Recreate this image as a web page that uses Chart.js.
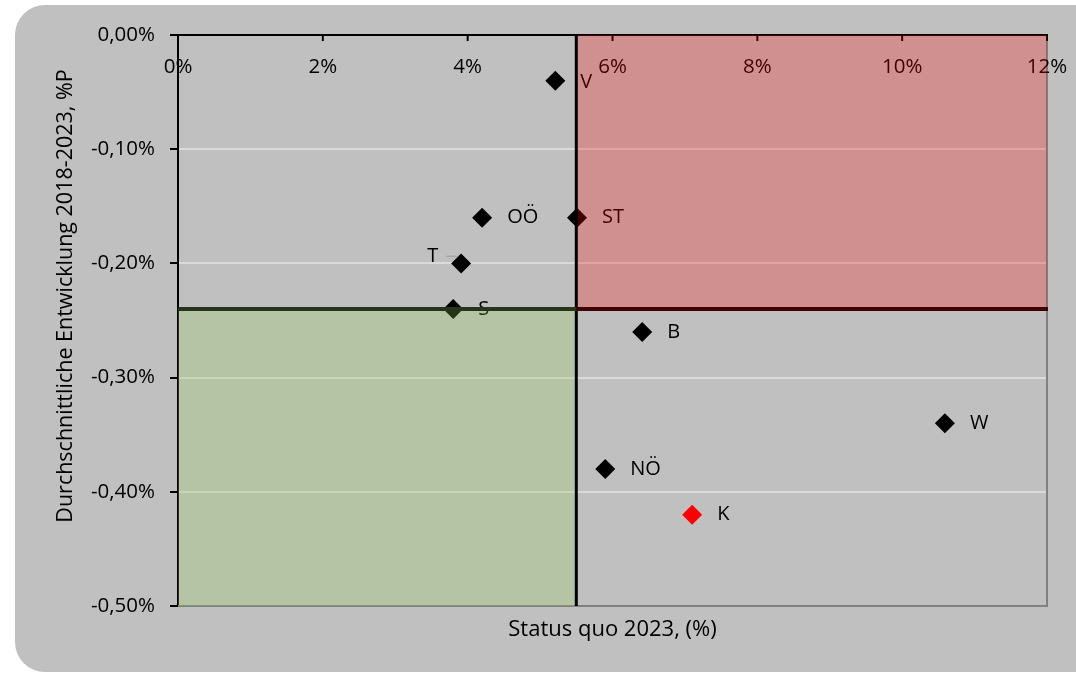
<!DOCTYPE html>
<html>
<head>
<meta charset="utf-8">
<script src="https://cdn.jsdelivr.net/npm/chart.js@4/dist/chart.umd.min.js"></script>
<style>
	html, body { margin: 0; padding: 0; background: #fff; }
</style>
</head>
<body>
<canvas id="myChart" width="1076" height="673"></canvas>
<script>
// Bundesländer
var regions = ["V", "OÖ", "ST", "T", "S", "B", "W", "NÖ", "K"];
// Status quo 2023 in %
var statusQuo = [5.21, 4.20, 5.51, 3.91, 3.80, 6.41, 10.59, 5.90, 7.10];
// durchschnittliche Entwicklung 2018-2023 in %P
var entwicklung = [-0.04, -0.16, -0.16, -0.20, -0.24, -0.26, -0.34, -0.38, -0.42];
var pointColors = ["#000", "#000", "#000", "#000", "#000", "#000", "#000", "#000", "#ff0000"];
var labelLeft = ["T"];

var xTicks = [0, 2, 4, 6, 8, 10, 12];
var xSplit = 5.5;
var ySplit = -0.24;

var yTitle = "Durchschnittliche Entwicklung 2018-2023, %P";
var xTitle = "Status quo 2023, (%)";

var FONT = "'Open Sans', sans-serif";

var points = regions.map(function(r, i) {
	return { x: statusQuo[i], y: entwicklung[i] };
});

var bgPlugin = {
	id: "bg",
	beforeDraw: function(chart) {
		var c = chart.ctx;
		c.save();
		c.fillStyle = "#fff";
		c.fillRect(0, 0, chart.width, chart.height);
		c.fillStyle = "#c0c0c0";
		c.beginPath();
		c.roundRect(15, 5, chart.width + 40, chart.height - 6, 30);
		c.fill();
		c.restore();
	}
};

var overlayPlugin = {
	id: "overlay",
	afterDraw: function(chart) {
		var c = chart.ctx;
		var xs = chart.scales.x, ys = chart.scales.y;
		var a = chart.chartArea;
		c.save();

		// y title (sits a bit above the middle in the original)
		c.save();
		c.translate(66, 296);
		c.rotate(-Math.PI / 2);
		c.font = "21.5px " + FONT;
		c.fillStyle = "#000";
		c.textAlign = "center";
		c.textBaseline = "middle";
		c.fillText(yTitle, 0, 0);
		c.restore();

		// plot border (right + bottom gray, top black)
		c.lineWidth = 2;
		c.strokeStyle = "#808080";
		c.beginPath();
		c.moveTo(a.right, a.top);
		c.lineTo(a.right, a.bottom);
		c.lineTo(a.left, a.bottom);
		c.stroke();
		c.strokeStyle = "#000";
		c.beginPath();
		c.moveTo(a.left - 1, a.top);
		c.lineTo(a.right + 1, a.top);
		c.stroke();

		// x ticks at the top, labels inside the plot
		c.font = "20.5px " + FONT;
		c.fillStyle = "#000";
		c.textAlign = "center";
		c.textBaseline = "middle";
		xTicks.forEach(function(t) {
			var px = xs.getPixelForValue(t);
			c.beginPath();
			c.moveTo(px, a.top);
			c.lineTo(px, a.top + 6);
			c.stroke();
			c.fillText(t + "%", px, a.top + 32);
		});

		// data labels
		c.font = "20px " + FONT;
		regions.forEach(function(r, i) {
			var px = xs.getPixelForValue(statusQuo[i]);
			var py = ys.getPixelForValue(entwicklung[i]);
			if (labelLeft.indexOf(r) >= 0) {
				c.textAlign = "right";
				c.fillStyle = "#000";
				c.fillText(r, px - 23, py - 7);
				c.strokeStyle = "#a8a8a8";
				c.lineWidth = 1.5;
				c.beginPath();
				c.moveTo(px - 15, py - 7);
				c.lineTo(px - 3, py - 7);
				c.stroke();
			} else {
				c.textAlign = "left";
				c.fillStyle = "#000";
				c.fillText(r, px + 25, py + (r == "V" ? 2 : 0));
			}
		});

		// quadrants, drawn over everything like in the original
		var x0 = xs.getPixelForValue(0), x1 = xs.getPixelForValue(xSplit), x2 = xs.getPixelForValue(12);
		var y0 = ys.getPixelForValue(0), y1 = ys.getPixelForValue(ySplit), y2 = ys.getPixelForValue(-0.5);
		c.fillStyle = "rgba(255, 0, 0, 0.25)";
		c.fillRect(x1, y0, x2 - x1, y1 - y0);
		c.fillStyle = "rgba(146, 208, 80, 0.25)";
		c.fillRect(x0, y1, x1 - x0, y2 - y1);

		c.lineWidth = 3;
		c.strokeStyle = "#000";
		c.beginPath();
		c.moveTo(x1, y0);
		c.lineTo(x1, y2);
		c.stroke();

		c.lineWidth = 4;
		c.strokeStyle = "#263419";
		c.beginPath();
		c.moveTo(x0, y1);
		c.lineTo(x1, y1);
		c.stroke();
		c.strokeStyle = "#3f0000";
		c.beginPath();
		c.moveTo(x1, y1);
		c.lineTo(x2 + 1, y1);
		c.stroke();

		c.restore();
	}
};

var ctx = document.getElementById("myChart").getContext("2d");
var myChart = new Chart(ctx, {
	type: "scatter",
	data: {
		datasets: [{
			label: "Bundesländer",
			data: points,
			pointStyle: "rectRot",
			pointRadius: 10,
			pointHoverRadius: 10,
			pointBorderWidth: 0,
			pointBackgroundColor: pointColors,
			pointBorderColor: pointColors
		}]
	},
	options: {
		responsive: false,
		animation: false,
		layout: {
			padding: { top: 35, right: 29, left: 0, bottom: 0 }
		},
		plugins: {
			legend: { display: false },
			tooltip: { enabled: false }
		},
		scales: {
			x: {
				type: "linear",
				min: 0,
				max: 12,
				ticks: { display: false, stepSize: 2 },
				grid: { display: false },
				border: { display: false },
				title: {
					display: true,
					text: xTitle,
					color: "#000",
					font: { family: FONT, size: 22 },
					padding: { top: 0, bottom: 30 }
				},
				afterFit: function(scale) {
					scale.height = 67;
				}
			},
			y: {
				type: "linear",
				min: -0.5,
				max: 0,
				ticks: {
					stepSize: 0.1,
					padding: 15,
					color: "#000",
					font: { family: FONT, size: 20.5 },
					callback: function(v) {
						return (Math.abs(v) < 1e-9 ? 0 : v).toFixed(2).replace(".", ",") + "%";
					}
				},
				grid: {
					color: function(c) {
						var v = c.tick ? c.tick.value : 0;
						if (Math.abs(v) < 1e-9 || Math.abs(v + 0.5) < 1e-9) return "rgba(0,0,0,0)";
						return "#dadada";
					},
					lineWidth: 2,
					tickColor: "#000",
					tickLength: 8,
					tickWidth: 2
				},
				border: { color: "#000", width: 2 },
				afterFit: function(scale) {
					scale.width = 178;
				}
			}
		}
	},
	plugins: [bgPlugin, overlayPlugin]
});
</script>
</body>
</html>
